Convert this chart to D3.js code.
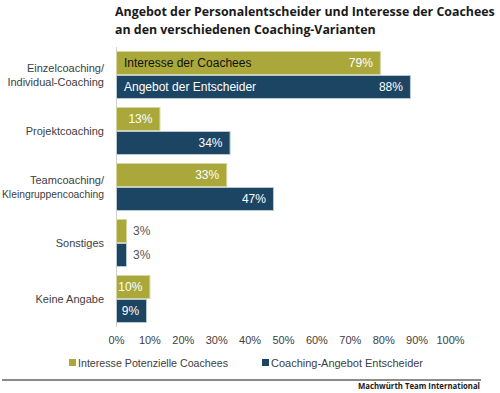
<!DOCTYPE html>
<html><head><meta charset="utf-8">
<script src="https://cdn.jsdelivr.net/npm/d3@7"></script>
<style>body{margin:0;background:#fff}svg{display:block}</style>
</head><body>
<svg id="c" width="500" height="393"></svg>
<script>
const categories = [["Einzelcoaching/","Individual-Coaching"],["Projektcoaching"],["Teamcoaching/","Kleingruppencoaching"],["Sonstiges"],["Keine Angabe"]];
const interesse = [79, 13, 33, 3, 10];
const angebot = [88, 34, 47, 3, 9];
const seriesNames = ["Interesse Potenzielle Coachees","Coaching-Angebot Entscheider"];
const inBarNames = ["Interesse der Coachees","Angebot der Entscheider"];
const ticks = [0,10,20,30,40,50,60,70,80,90,100];
const titleLines = ["Angebot der Personalentscheider und Interesse der Coachees","an den verschiedenen Coaching-Varianten"];
const footer = "Machwürth Team International";

const olive = "#aaa83b", navy = "#1b4563";
const svg = d3.select("#c");
const font = "Liberation Sans, Arial, sans-serif";

function squeeze(sel, w){ const l=sel.node().getComputedTextLength(); if (l>w) sel.attr("textLength",w).attr("lengthAdjust","spacingAndGlyphs"); }
function fitSize(sel, w){ const fs=parseFloat(sel.attr("font-size")); const l=sel.node().getComputedTextLength(); sel.attr("font-size", Math.min(fs, fs*w/l)); return +sel.attr("font-size"); }

// title
const t1 = svg.append("text").attr("x",115).attr("y",16).attr("font-family","Open Sans, sans-serif").attr("font-weight","bold").attr("font-size",15).attr("fill","#1a1a1a").text(titleLines[0]);
const tfs = fitSize(t1, 380);
svg.append("text").attr("x",115).attr("y",34).attr("font-family","Open Sans, sans-serif").attr("font-weight","bold").attr("font-size",tfs).attr("fill","#1a1a1a").text(titleLines[1]);

const x = d3.scaleLinear().domain([0,100]).range([116,450]);
const y = d3.scaleBand().domain(d3.range(categories.length)).range([47,327]).paddingInner(8/56).paddingOuter(4/56);
const sub = d3.scaleBand().domain([0,1]).range([0,y.bandwidth()]);

// axis line
svg.append("line").attr("x1",116.5).attr("x2",116.5).attr("y1",47).attr("y2",327).attr("stroke","#d0d0d0").attr("stroke-width",1);

const data = categories.map((c,i)=>({c, v:[interesse[i], angebot[i]]}));
const g = svg.append("g");
data.forEach((d,i)=>{
  d.v.forEach((v,j)=>{
    const y0 = y(i)+sub(j);
    g.append("rect").attr("x",x(0)+0.5).attr("y",y0+0.5).attr("width",x(v)-x(0)).attr("height",sub.bandwidth()-1)
      .attr("fill", j===0?olive:navy).attr("stroke", j===0?"#d6d4a0":"#b9c7d4").attr("stroke-width",1);
    const cy = y0+sub.bandwidth()/2;
    if (v >= 8) {
      g.append("text").attr("x",x(v)-7).attr("y",cy).attr("dy","0.35em").attr("text-anchor","end")
        .attr("font-family",font).attr("font-size",12).attr("fill","#fff").text(v+"%");
    } else {
      g.append("text").attr("x",x(v)+7).attr("y",cy).attr("dy","0.35em").attr("text-anchor","start")
        .attr("font-family",font).attr("font-size",12).attr("fill","#555").text(v+"%");
    }
    if (i===0) {
      g.append("text").attr("x",124).attr("y",cy).attr("dy","0.35em").attr("font-family",font).attr("font-size",12)
        .attr("fill", j===0?"#111":"#fff").text(inBarNames[j]);
    }
  });
  const cy = y(i)+y.bandwidth()/2;
  const n = d.c.length;
  d.c.forEach((line,k)=>{
    const tx = svg.append("text").attr("x",104).attr("y",cy+(k-(n-1)/2)*14).attr("dy","0.35em").attr("text-anchor","end")
      .attr("font-family",font).attr("font-size",11).attr("fill","#404040").text(line);
    squeeze(tx, 102);
  });
});

// x tick labels
const axis = d3.axisBottom(x).tickValues(ticks).tickFormat(d=>d+"%").tickSize(0).tickPadding(0);
const ax = svg.append("g").attr("transform","translate(0,336)").call(axis);
ax.select(".domain").remove();
ax.selectAll("text").attr("font-family",font).attr("font-size",11).attr("fill","#404040");

// legend
const legX = [69, 262];
const legW = [150, 152];
seriesNames.forEach((s,j)=>{
  svg.append("rect").attr("x",legX[j]).attr("y",359).attr("width",7).attr("height",7).attr("fill", j===0?olive:navy);
  const lt = svg.append("text").attr("x",legX[j]+9).attr("y",363).attr("dy","0.35em").attr("font-family",font).attr("font-size",11).attr("fill","#404040").text(s);
  squeeze(lt, legW[j]);
});

// bottom rule and footer
svg.append("line").attr("x1",2).attr("x2",481).attr("y1",380).attr("y2",380).attr("stroke","#8a8a8a").attr("stroke-width",2);
const ft = svg.append("text").attr("x",480).attr("y",389).attr("text-anchor","end").attr("font-family","Open Sans, sans-serif").attr("font-weight","bold").attr("font-size",9).attr("fill","#1a1a1a").text(footer);
squeeze(ft, 122);
</script>
</body></html>
